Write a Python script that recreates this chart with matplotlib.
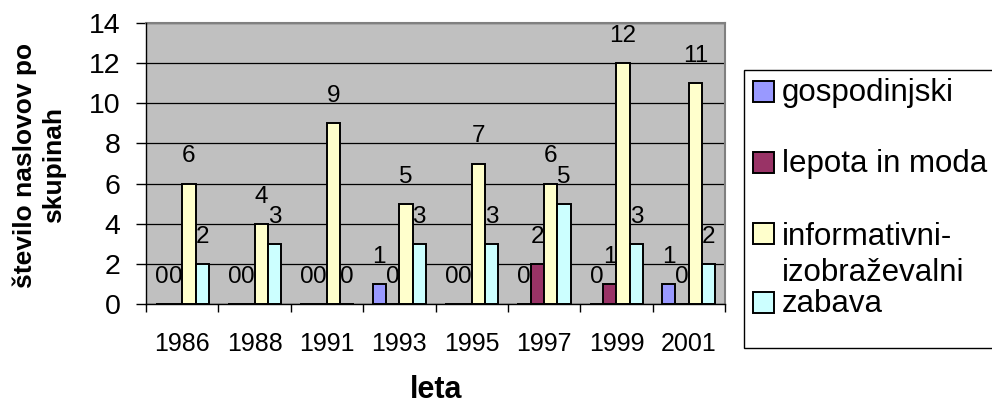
import matplotlib
matplotlib.use("Agg")
import numpy as np
import matplotlib.pyplot as plt
from matplotlib.patches import Rectangle

plt.rcParams["font.family"] = ["Liberation Sans", "DejaVu Sans"]

# Number of titles per group and year
years = ["1986", "1988", "1991", "1993", "1995", "1997", "1999", "2001"]
gospodinjski = [0, 0, 0, 1, 0, 0, 0, 1]
lepota_in_moda = [0, 0, 0, 0, 0, 2, 1, 0]
informativni = [6, 4, 9, 5, 7, 6, 12, 11]
zabava = [2, 3, 0, 3, 3, 5, 3, 2]

series_names = ["gospodinjski", "lepota in moda", "informativni-\nizobraževalni", "zabava"]
series_values = [gospodinjski, lepota_in_moda, informativni, zabava]
colors = ["#9999FF", "#993366", "#FFFFCC", "#CCFFFF"]

W, H = 992, 405
fig = plt.figure(figsize=(W / 100, H / 100), dpi=100)
ax = fig.add_axes([146 / W, 1 - 304 / H, (725 - 146) / W, (304 - 23) / H])
ax.set_facecolor("#C0C0C0")

x = np.arange(len(years))
bw = 0.184
offsets = (np.arange(4) - 1.5) * bw

for vals, col, off in zip(series_values, colors, offsets):
    ax.bar(x + off, vals, width=bw, color=col, edgecolor="black",
           linewidth=1.4, zorder=3)
    for xi, v in zip(x + off, vals):
        ax.annotate(str(v), (xi, v), xytext=(0, 19.5), textcoords="offset points",
                    ha="center", va="center", fontsize=17.5, zorder=4)

ax.set_xlim(-0.5, len(years) - 0.5)
ax.set_ylim(0, 14)
ax.set_yticks(range(0, 15, 2))
ax.tick_params(axis="y", labelsize=20.5, length=7.2, width=1, pad=11)
ax.set_xticks(x)
ax.set_xticklabels(years)
ax.set_xticks(np.arange(-0.5, len(years)), minor=True)
ax.tick_params(axis="x", which="major", length=0, labelsize=18, pad=20)
ax.tick_params(axis="x", which="minor", length=6, width=1)

ax.yaxis.grid(True, color="black", linewidth=0.9)
ax.set_axisbelow(True)
for side in ("top", "right"):
    ax.spines[side].set_color("#808080")
    ax.spines[side].set_linewidth(1.5)
for side in ("left", "bottom"):
    ax.spines[side].set_color("black")
    ax.spines[side].set_linewidth(1.0)
    ax.spines[side].set_zorder(5)

# Axis titles
fig.text(39 / W, 1 - 165 / H, "število naslovov po\nskupinah", rotation=90,
         ha="center", va="center", multialignment="center", fontsize=19,
         fontweight="bold", linespacing=1.25)
fig.text(436 / W, 1 - 398 / H, "leta", ha="center", va="baseline",
         fontsize=22, fontweight="bold")

# Legend box
def px(xp, yp):
    return xp / W, 1 - yp / H

fig.add_artist(Rectangle(px(744, 348), (1020 - 744) / W, (348 - 70) / H,
                         transform=fig.transFigure, facecolor="white",
                         edgecolor="black", linewidth=1.0))
patch_bottoms = [102, 173, 244, 313]
text_baselines = [[101], [172], [245, 281], [312]]
for name, col, bottom, bases in zip(series_names, colors, patch_bottoms, text_baselines):
    fig.add_artist(Rectangle(px(753, bottom), 21 / W, 21 / H,
                             transform=fig.transFigure, facecolor=col,
                             edgecolor="black", linewidth=1.4))
    for line, base in zip(name.split("\n"), bases):
        fig.text(*px(782, base), line, ha="left", va="baseline", fontsize=22.5)

fig.savefig("out.png", dpi=100)
